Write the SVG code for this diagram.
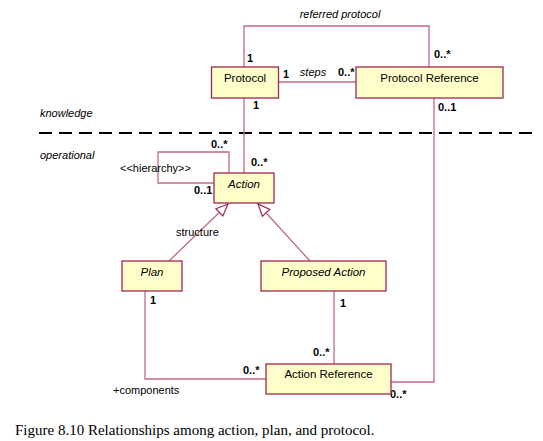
<svg xmlns="http://www.w3.org/2000/svg" width="543" height="441" viewBox="0 0 543 441">
<defs>
<style>
.box{fill:#ffffcc;stroke:#a0284e;stroke-width:1.3}
.ln{fill:none;stroke:#c26a84;stroke-width:1.3}
.t{font-family:"Liberation Sans",Arial,sans-serif;font-size:11.5px;fill:#000}
.ti{font-family:"Liberation Sans",Arial,sans-serif;font-size:11.5px;font-style:italic;fill:#000}
.m{font-family:"Liberation Sans",Arial,sans-serif;font-size:11px;font-weight:bold;fill:#000}
.s{font-family:"Liberation Sans",Arial,sans-serif;font-size:11px;fill:#000}
.si{font-family:"Liberation Sans",Arial,sans-serif;font-size:11px;font-style:italic;fill:#000}
.cap{font-family:"Liberation Serif","Times New Roman",serif;font-size:15px;fill:#000}
</style>
<marker id="gen" viewBox="0 0 14 12" refX="13" refY="6" markerWidth="14" markerHeight="12" markerUnits="userSpaceOnUse" orient="auto">
<path d="M1,1 L13,6 L1,11 Z" fill="#fff" stroke="#a0284e" stroke-width="1.2"/>
</marker>
</defs>
<rect width="543" height="441" fill="#fff"/>
<line x1="39" y1="133" x2="533" y2="133" stroke="#000" stroke-width="2" stroke-dasharray="13 7"/>
<text class="si" x="40" y="117">knowledge</text>
<text class="si" x="40" y="159">operational</text>
<g id="connectors">
<polyline class="ln" points="244,67 244,26 429,26 429,67"/>
<line class="ln" x1="278" y1="82" x2="356" y2="82"/>
<line class="ln" x1="244" y1="98" x2="244" y2="173"/>
<polyline class="ln" points="229,173 229,152 158,152 158,183 214,183"/>
<polyline class="ln" points="434,98 434,382 391,382"/>
<line class="ln" x1="169" y1="261" x2="228" y2="204" marker-end="url(#gen)"/>
<line class="ln" x1="310" y1="261" x2="258" y2="204" marker-end="url(#gen)"/>
<polyline class="ln" points="145,291 145,379 266,379"/>
<line class="ln" x1="334" y1="291" x2="334" y2="364"/>
<text class="si" x="340" y="18" text-anchor="middle">referred protocol</text>
<text class="m" x="247" y="62">1</text>
<text class="m" x="434" y="58">0..*</text>
<text class="m" x="283" y="78">1</text>
<text class="si" x="313" y="76" text-anchor="middle">steps</text>
<text class="m" x="338" y="76">0..*</text>
<text class="m" x="253" y="109">1</text>
<text class="m" x="438" y="111">0..1</text>
<text class="m" x="211" y="148">0..*</text>
<text class="s" x="120" y="172">&lt;&lt;hierarchy&gt;&gt;</text>
<text class="m" x="194" y="194">0..1</text>
<text class="m" x="251" y="166">0..*</text>
<text class="s" x="176" y="236">structure</text>
<text class="m" x="150" y="304">1</text>
<text class="m" x="340" y="307">1</text>
<text class="m" x="313" y="356">0..*</text>
<text class="m" x="243" y="374">0..*</text>
<text class="s" x="113" y="394">+components</text>
<text class="m" x="390" y="398">0..*</text>
</g>
<g id="protocol">
<rect class="box" x="211.5" y="67" width="67" height="31"/>
<text class="t" x="245" y="82" text-anchor="middle">Protocol</text>
</g>
<g id="protocol-reference">
<rect class="box" x="356" y="67" width="147" height="31"/>
<text class="t" x="429.5" y="82" text-anchor="middle">Protocol Reference</text>
</g>
<g id="action">
<rect class="box" x="214" y="173" width="60" height="30"/>
<text class="ti" x="244" y="188" text-anchor="middle">Action</text>
</g>
<g id="plan">
<rect class="box" x="122" y="261" width="60" height="30"/>
<text class="ti" x="152" y="276" text-anchor="middle">Plan</text>
</g>
<g id="proposed-action">
<rect class="box" x="261" y="261" width="125" height="30"/>
<text class="ti" x="323.5" y="276" text-anchor="middle">Proposed Action</text>
</g>
<g id="action-reference">
<rect class="box" x="266" y="364" width="125" height="30"/>
<text class="t" x="328.5" y="378" text-anchor="middle">Action Reference</text>
</g>
<text class="cap" x="15" y="435">Figure 8.10 Relationships among action, plan, and protocol.</text>
</svg>
